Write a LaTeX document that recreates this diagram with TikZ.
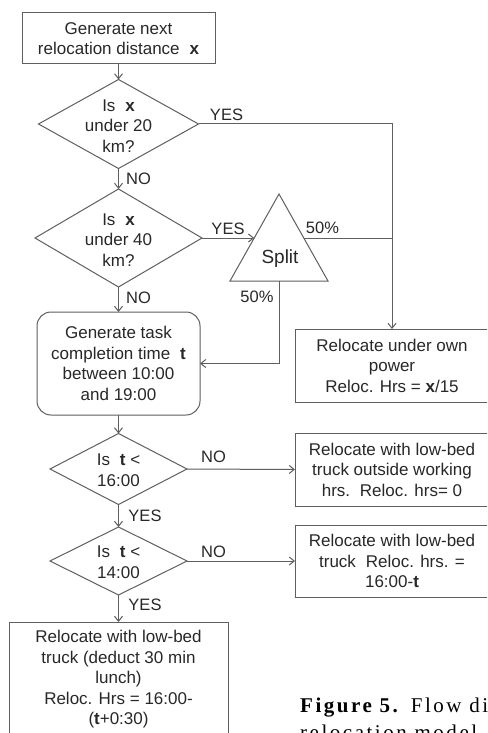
\documentclass[tikz,border=0pt]{standalone}
\usepackage{fontspec}
\setmainfont{Liberation Sans}
\newfontfamily\capfont[LetterSpace=12]{Liberation Serif}
\usetikzlibrary{arrows.meta,shapes.geometric}
\definecolor{linecol}{RGB}{95,95,95}
\definecolor{txtcol}{RGB}{40,40,40}
\newcommand{\wsp}{\hspace{0.3em}}
\begin{document}
\begin{tikzpicture}[x=1pt,y=-1pt,
  every node/.style={font=\fontsize{17}{20.5}\selectfont, text=txtcol},
  box/.style={draw=linecol, line width=1pt, inner sep=0pt, outer sep=0pt, align=center},
  rbox/.style={box, rounded corners=14pt},
  dia/.style={diamond, draw=linecol, line width=1pt, inner sep=0pt, outer sep=0pt},
  dtext/.style={align=center, inner sep=0pt},
  lbl/.style={inner sep=0pt, font=\fontsize{16.5}{20}\selectfont},
  conn/.style={draw=linecol, line width=1pt},
  arr/.style={conn, -{Straight Barb[length=5pt,width=8pt]}}
]
\useasboundingbox (0,0) rectangle (487,733);
\fill[white] (0,0) rectangle (487,733);
\clip (0,0) rectangle (487,733);

% process boxes
\node[box, minimum width=193pt, minimum height=51pt] (b1) at (118.5,38.5)
  {Generate next\\relocation distance\wsp\ \textbf{x}};
\node[rbox, minimum width=163pt, minimum height=103pt] (rb) at (118.5,363.5)
  {Generate task\\completion time\wsp\ \textbf{t}\\between 10:00\\and 19:00};
\node[box, minimum width=194pt, minimum height=73pt] (own) at (392,365.5)
  {Relocate under own\\power\\Reloc. Hrs = \textbf{x}/15};
\node[box, minimum width=194pt, minimum height=73pt] (b2) at (392,469.5)
  {Relocate with low-bed\\truck outside working\\hrs.\wsp\ Reloc. hrs= 0};
\node[box, minimum width=194pt, minimum height=72pt] (b3) at (392,561)
  {Relocate with low-bed\\truck\wsp\ Reloc. hrs. =\\16:00-\textbf{t}};
\node[box, minimum width=219pt, minimum height=115pt] (b4) at (118.5,679.5)
  {Relocate with low-bed\\truck (deduct 30 min\\lunch)\\Reloc. Hrs = 16:00-\\(\textbf{t}+0:30)};

% decisions
\node[dia, minimum width=160pt, minimum height=89pt,
  label={[dtext, yshift=-2pt]center:Is\wsp\ \textbf{x}\\under 20\\km?}] (d1) at (118.5,124) {};
\node[dia, minimum width=167pt, minimum height=98pt,
  label={[dtext, yshift=-2pt]center:Is\wsp\ \textbf{x}\\under 40\\km?}] (d2) at (118.5,238) {};
\node[dia, minimum width=137pt, minimum height=71pt,
  label={[dtext, yshift=-1pt]center:Is\wsp\ \textbf{t} <\\16:00}] (d3) at (118.5,469) {};
\node[dia, minimum width=137pt, minimum height=68pt,
  label={[dtext, yshift=-1pt]center:Is\wsp\ \textbf{t} <\\14:00}] (d4) at (118.5,561) {};

% split triangle
\coordinate (ta) at (279,194);
\coordinate (tbr) at (328,281);
\coordinate (tbl) at (230,281);
\draw[conn, line join=miter] (ta) -- (tbr) -- (tbl) -- cycle;
\node[inner sep=0pt, font=\fontsize{19}{22}\selectfont] (split) at (280,259) {Split};
\coordinate (tl) at (254.2,238);
\coordinate (tr) at (303.8,238);
\coordinate (tb) at (279,281);
\coordinate (J) at (392,238);

% connectors
\draw[arr] (b1.south) -- (d1.north);
\draw[arr] (d1.east) -| (own.north);
\draw[arr] (d1.south) -- (d2.north);
\draw[arr] (d2.east) -- (tl);
\draw[conn] (tr) -- (J);
\draw[arr] (tb) |- (rb.east);
\draw[arr] (d2.south) -- (rb.north);
\draw[arr] (rb.south) -- (d3.north);
\draw[arr] (d3.east) -- (b2.west);
\draw[arr] (d3.south) -- (d4.north);
\draw[arr] (d4.east) -- (b3.west);
\draw[arr] (d4.south) -- (b4.north);

% connector labels
\node[lbl] (l1) at (226.5,115) {YES};
\node[lbl] (l2) at (138.5,179) {NO};
\node[lbl] (l3) at (228,229) {YES};
\node[lbl] (l4) at (322.5,228) {50\%};
\node[lbl] (l5) at (257,297) {50\%};
\node[lbl] (l6) at (138.5,298) {NO};
\node[lbl] (l7) at (213.5,457) {NO};
\node[lbl] (l8) at (145,516) {YES};
\node[lbl] (l9) at (213.5,552) {NO};
\node[lbl] (l10) at (145,605) {YES};

% caption (cropped)
\node[anchor=base west, inner sep=0pt, text=black, font=\capfont\fontsize{21}{27}\selectfont] (cap1) at (300,712)
  {\textbf{Figure 5.} Flow diagram of the};
\node[anchor=base west, inner sep=0pt, text=black, font=\capfont\fontsize{21}{27}\selectfont] (cap2) at (300,739.5)
  {relocation model};
\end{tikzpicture}
\end{document}
